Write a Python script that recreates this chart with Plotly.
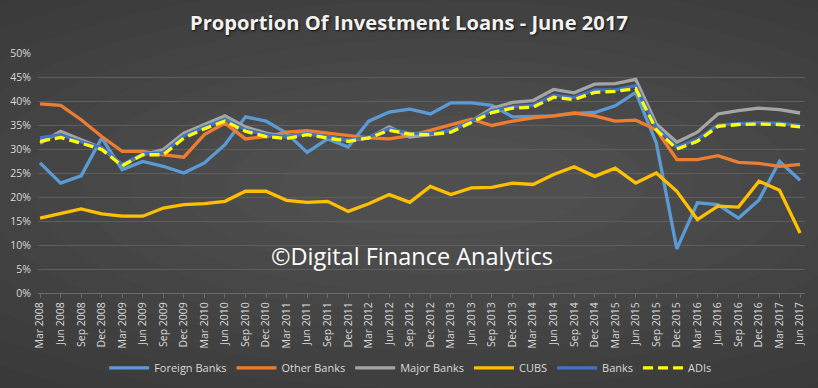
import plotly.graph_objects as go

quarters = ["Mar", "Jun", "Sep", "Dec"]
categories = [f"{q} {y}" for y in range(2008, 2018) for q in quarters][:38]

foreign_banks = [27.1, 22.9, 24.4, 32.3, 25.7, 27.4, 26.4, 25.0, 27.1, 30.9, 36.7, 35.8,
                 33.3, 29.3, 32.1, 30.4, 35.8, 37.7, 38.3, 37.3, 39.6, 39.6, 39.1, 36.7,
                 36.8, 36.9, 37.4, 37.6, 39.0, 41.8, 31.3, 9.2, 18.8, 18.4, 15.6, 19.4,
                 27.4, 23.5]
other_banks = [39.4, 39.1, 36.1, 32.6, 29.5, 29.5, 28.8, 28.3, 33.0, 35.4, 32.1, 32.6,
               33.5, 33.8, 33.3, 32.8, 32.3, 32.1, 32.8, 33.9, 35.1, 36.2, 34.9, 35.8,
               36.5, 36.9, 37.5, 36.9, 35.8, 36.0, 34.0, 27.8, 27.8, 28.6, 27.2, 27.0,
               26.4, 26.8]
major_banks = [31.2, 33.7, 31.9, 30.2, 26.7, 28.8, 29.9, 33.3, 35.1, 36.9, 34.6, 33.3,
               32.6, 33.3, 32.5, 31.8, 32.3, 34.6, 32.5, 33.0, 33.9, 35.8, 38.5, 39.7,
               40.1, 42.4, 41.7, 43.5, 43.6, 44.5, 35.2, 31.4, 33.5, 37.3, 38.0, 38.5,
               38.2, 37.5]
cubs = [15.6, 16.5, 17.5, 16.5, 16.0, 16.0, 17.7, 18.4, 18.6, 19.1, 21.2, 21.2,
        19.3, 18.9, 19.1, 17.0, 18.6, 20.5, 18.9, 22.2, 20.5, 21.9, 22.0, 22.9,
        22.6, 24.7, 26.3, 24.3, 26.0, 22.9, 25.0, 21.2, 15.3, 18.1, 17.9, 23.3,
        21.4, 12.5]
banks = [32.3, 33.0, 31.5, 30.3, 26.8, 29.0, 29.2, 32.7, 34.6, 36.2, 34.0, 33.0,
         32.5, 33.2, 32.5, 31.8, 32.5, 34.2, 33.3, 33.2, 33.8, 35.8, 38.0, 38.8,
         39.1, 41.2, 40.7, 42.3, 42.3, 43.2, 34.5, 30.4, 32.0, 35.0, 35.3, 35.5,
         35.4, 34.9]
adis = [31.6, 32.4, 31.2, 29.9, 26.5, 28.8, 28.8, 32.3, 34.2, 35.8, 33.7, 32.6,
        32.2, 33.0, 32.3, 31.6, 32.3, 33.9, 33.1, 33.0, 33.5, 35.5, 37.6, 38.5,
        38.7, 40.8, 40.3, 41.8, 42.0, 42.6, 34.0, 30.0, 31.6, 34.7, 35.1, 35.2,
        35.1, 34.6]

series = [
    ("Foreign Banks", foreign_banks, "#5B9BD5", "solid"),
    ("Other Banks", other_banks, "#ED7D31", "solid"),
    ("Major Banks", major_banks, "#A5A5A5", "solid"),
    ("CUBS", cubs, "#FFC000", "solid"),
    ("Banks", banks, "#4472C4", "solid"),
    ("ADIs", adis, "#FFFF00", "10px,5px"),
]

fig = go.Figure()
xs = list(range(len(categories)))
for name, vals, color, dash in series:
    fig.add_trace(go.Scatter(
        x=xs, y=[v / 100 for v in vals], name=name, mode="lines",
        line=dict(color=color, width=3.3, dash=dash),
    ))

# soft radial background glow
shapes = []
n = 14
cx, cy = 0.52, 0.45
for k in range(n):
    rx = 1.05 - k * 0.065
    ry = 1.25 - k * 0.08
    shapes.append(dict(type="circle", xref="paper", yref="paper", layer="below",
                       x0=cx - rx, x1=cx + rx, y0=cy - ry, y1=cy + ry,
                       fillcolor="rgba(255,255,255,0.013)", line=dict(width=0)))

fig.update_layout(
    width=818, height=388,
    margin=dict(l=38, r=13, t=53, b=95),
    paper_bgcolor="#333333",
    plot_bgcolor="rgba(0,0,0,0)",
    shapes=shapes,
    font=dict(family="Open Sans, sans-serif", color="#d9d9d9", size=10),
    title=dict(text="<b>Proportion Of Investment Loans - June 2017</b>",
               x=0.5, xref="container", xanchor="center", y=0.94, yanchor="middle",
               font=dict(size=20.2, color="#f2f2f2", family="Open Sans, sans-serif",
                         shadow="1px 1px 2px #111111")),
    showlegend=True,
    legend=dict(orientation="h", x=0.502, xref="container", xanchor="center",
                y=0.052, yref="container", yanchor="middle",
                font=dict(size=11, color="#d9d9d9"), bgcolor="rgba(0,0,0,0)",
                itemwidth=40, tracegroupgap=0),
    annotations=[dict(text="©Digital Finance Analytics", x=0.488, y=0.155,
                      xref="paper", yref="paper", showarrow=False,
                      xanchor="center", yanchor="middle",
                      font=dict(size=23.5, color="#ffffff", family="Open Sans, sans-serif"))],
)
fig.update_xaxes(
    range=[-0.1, 37.24], tickmode="array", tickvals=xs, ticktext=categories,
    tickangle=-90, showgrid=False, showline=True, linecolor="#6a6a6a",
    ticks="outside", ticklen=4, tickcolor="#6a6a6a", zeroline=False,
    tickfont=dict(size=10.5, color="#d9d9d9"), automargin=False,
)
fig.update_yaxes(
    range=[0, 0.5], dtick=0.05, tickformat=".0%", showgrid=True,
    gridcolor="#5e5e5e", gridwidth=1, zeroline=False, showline=False,
    tickfont=dict(size=10.5, color="#d9d9d9"), ticks="", ticklabelstandoff=6,
    automargin=False,
)
fig.write_html("out.html", config={"displayModeBar": False},
               post_script="document.body.style.margin='0';document.body.style.overflow='hidden';")
